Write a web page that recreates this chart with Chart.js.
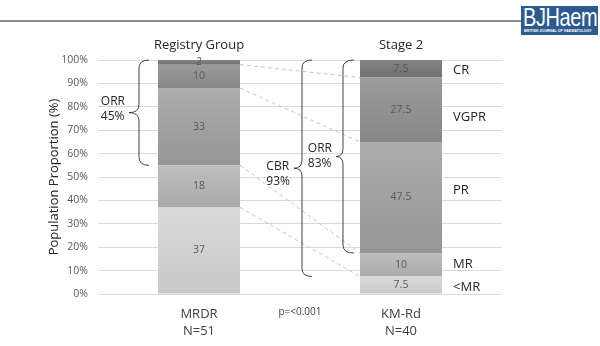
<!DOCTYPE html>
<html>
<head>
<meta charset="utf-8">
<script src="https://cdn.jsdelivr.net/npm/chart.js@4.4.0/dist/chart.umd.min.js"></script>
<style>
  body { margin: 0; background: #fff; }
  #wrap { position: relative; width: 600px; height: 346px; }
  #rule { position: absolute; left: 0; top: 20px; width: 521px; height: 2px; background: #8c8c8c; }
  #logo { position: absolute; left: 521px; top: 6px; width: 77px; height: 29px; background: #2c5a8e; color: #fff;
          font-family: "Liberation Sans", sans-serif; overflow: hidden; }
  #logo .big { position: absolute; left: 2px; top: -3px; font-size: 25px; letter-spacing: -0.5px;
               transform: scaleX(0.8); transform-origin: left top; white-space: nowrap; }
  #logo .small { position: absolute; left: 3px; top: 23px; font-size: 3.6px; font-weight: bold; white-space: nowrap; }
  canvas { position: absolute; left: 0; top: 0; }
</style>
</head>
<body>
<div id="wrap">
  <div id="rule"></div>
  <div id="logo"><span class="big">BJHaem</span><span class="small">BRITISH JOURNAL OF HAEMATOLOGY</span></div>
  <canvas id="myChart" width="600" height="346"></canvas>
</div>
<script>
const categories = [['MRDR', 'N=51'], ['KM-Rd', 'N=40']];
const groupTitles = ['Registry Group', 'Stage 2'];
const responseLevels = ['<MR', 'MR', 'PR', 'VGPR', 'CR'];
const mrdrValues = [37, 18, 33, 10, 2];
const kmrdValues = [7.5, 10, 47.5, 27.5, 7.5];
const pValueText = 'p=<0.001';

// grey shades per response level, lighter at the top of each block
const levelTop = ['#dadada', '#bebebe', '#acacac', '#9b9b9b', '#838383'];
const levelBottom = ['#c8c8c8', '#aaaaaa', '#969696', '#878787', '#707070'];

const FONT = '"Open Sans", sans-serif';
const barValues = [mrdrValues, kmrdValues];

function cumulative(values, upTo) {
  let s = 0;
  for (let i = 0; i < upTo; i++) s += values[i];
  return s;
}

function segmentFill(level) {
  return (ctx) => {
    const chart = ctx.chart;
    const y = chart.scales.y;
    if (ctx.type !== 'data' || !y || !chart.chartArea) return levelTop[level];
    const vals = barValues[ctx.dataIndex];
    const lo = cumulative(vals, level);
    const top = y.getPixelForValue(lo + vals[level]);
    const bottom = y.getPixelForValue(lo);
    if (!isFinite(top) || !isFinite(bottom) || top === bottom) return levelTop[level];
    const g = chart.ctx.createLinearGradient(0, top, 0, bottom);
    g.addColorStop(0, levelTop[level]);
    g.addColorStop(1, levelBottom[level]);
    return g;
  };
}

const datasets = responseLevels.map((name, i) => ({
  label: name,
  data: [mrdrValues[i], kmrdValues[i]],
  backgroundColor: segmentFill(i),
  borderWidth: 0,
  barPercentage: 0.406,
  categoryPercentage: 1.0
}));

function drawBrace(ctx, xEnd, yTop, yBot, xSpine, xTip) {
  const yMid = (yTop + yBot) / 2;
  const r = 8;
  ctx.beginPath();
  ctx.moveTo(xEnd, yTop);
  ctx.quadraticCurveTo(xSpine, yTop, xSpine, yTop + r);
  ctx.lineTo(xSpine, yMid - r);
  ctx.quadraticCurveTo(xSpine, yMid, xTip, yMid);
  ctx.quadraticCurveTo(xSpine, yMid, xSpine, yMid + r);
  ctx.lineTo(xSpine, yBot - r);
  ctx.quadraticCurveTo(xSpine, yBot, xEnd, yBot);
  ctx.stroke();
}

const annotations = {
  id: 'annotations',
  afterDatasetsDraw(chart) {
    const ctx = chart.ctx;
    const y = chart.scales.y;
    const bars = [0, 1].map(i => {
      const el = chart.getDatasetMeta(0).data[i];
      return { left: el.x - el.width / 2, right: el.x + el.width / 2, x: el.x };
    });

    ctx.save();

    // values inside each block
    ctx.font = '10.5px ' + FONT;
    ctx.fillStyle = '#595959';
    ctx.textAlign = 'center';
    ctx.textBaseline = 'middle';
    chart.data.datasets.forEach((ds, di) => {
      chart.getDatasetMeta(di).data.forEach((el, i) => {
        ctx.fillText(String(ds.data[i]), el.x, (el.y + el.base) / 2);
      });
    });

    // dashed links between matching level boundaries
    ctx.strokeStyle = '#c4c4c4';
    ctx.lineWidth = 1;
    ctx.setLineDash([4, 3]);
    for (let k = 1; k < responseLevels.length; k++) {
      ctx.beginPath();
      ctx.moveTo(bars[0].right, y.getPixelForValue(cumulative(mrdrValues, k)));
      ctx.lineTo(bars[1].left, y.getPixelForValue(cumulative(kmrdValues, k)));
      ctx.stroke();
    }
    ctx.setLineDash([]);

    // group titles
    ctx.font = '13px ' + FONT;
    ctx.fillStyle = '#262626';
    groupTitles.forEach((t, i) => ctx.fillText(t, bars[i].x, 45));

    // p value between the bars
    ctx.font = '10px ' + FONT;
    ctx.fillStyle = '#404040';
    ctx.fillText(pValueText, (bars[0].x + bars[1].x) / 2, 312);

    // level names to the right of the second bar
    const nudge = [2, 0, -7, 8, 2];
    ctx.font = '13px ' + FONT;
    ctx.fillStyle = '#262626';
    ctx.textAlign = 'left';
    responseLevels.forEach((name, k) => {
      const lo = cumulative(kmrdValues, k);
      const mid = y.getPixelForValue(lo + kmrdValues[k] / 2);
      ctx.fillText(name, bars[1].right + 11, mid + nudge[k]);
    });

    // response-rate braces
    const braces = [
      { name: 'ORR', bar: 0, from: 2, end: bars[0].left - 9, spine: bars[0].left - 19, tip: bars[0].left - 29, dy: -3 },
      { name: 'CBR', bar: 1, from: 1, end: bars[1].left - 48, spine: bars[1].left - 58, tip: bars[1].left - 66, dy: 6 },
      { name: 'ORR', bar: 1, from: 2, end: bars[1].left - 6, spine: bars[1].left - 17, tip: bars[1].left - 24, dy: 0 }
    ];
    ctx.strokeStyle = '#404040';
    ctx.lineWidth = 1;
    ctx.font = '12px ' + FONT;
    ctx.fillStyle = '#262626';
    braces.forEach(b => {
      const vals = barValues[b.bar];
      const lo = cumulative(vals, b.from);
      const total = cumulative(vals, vals.length);
      const yTop = y.getPixelForValue(total);
      const yBot = y.getPixelForValue(lo);
      drawBrace(ctx, b.end, yTop, yBot, b.spine, b.tip);
      const pct = Math.round(total - lo) + '%';
      const w = Math.max(ctx.measureText(b.name).width, ctx.measureText(pct).width);
      const tx = b.tip - 4 - w;
      const ty = (yTop + yBot) / 2 + b.dy;
      ctx.fillText(b.name, tx, ty - 8);
      ctx.fillText(pct, tx, ty + 7);
    });

    ctx.restore();
  }
};

new Chart(document.getElementById('myChart'), {
  type: 'bar',
  data: { labels: categories, datasets: datasets },
  options: {
    responsive: false,
    animation: false,
    layout: { padding: { left: 46, right: 98, top: 60, bottom: 0 } },
    plugins: { legend: { display: false }, tooltip: { enabled: false } },
    scales: {
      x: {
        stacked: true,
        grid: { display: false, drawTicks: false },
        border: { display: false },
        ticks: { color: '#404040', font: { family: FONT, size: 13, lineHeight: 1.3 }, padding: 12 },
        afterFit(scale) { scale.height = 52; }
      },
      y: {
        stacked: true,
        min: 0,
        max: 100,
        grid: { color: '#d9d9d9', lineWidth: 1, drawTicks: false },
        border: { display: false },
        ticks: {
          stepSize: 10,
          padding: 10,
          color: '#595959',
          font: { family: FONT, size: 10.5 },
          callback: v => v + '%'
        },
        title: {
          display: true,
          text: 'Population Proportion (%)',
          color: '#262626',
          font: { family: FONT, size: 13 },
          padding: { top: 0, bottom: 0 }
        },
        afterFit(scale) { scale.width = 52; }
      }
    }
  },
  plugins: [annotations]
});
</script>
</body>
</html>
